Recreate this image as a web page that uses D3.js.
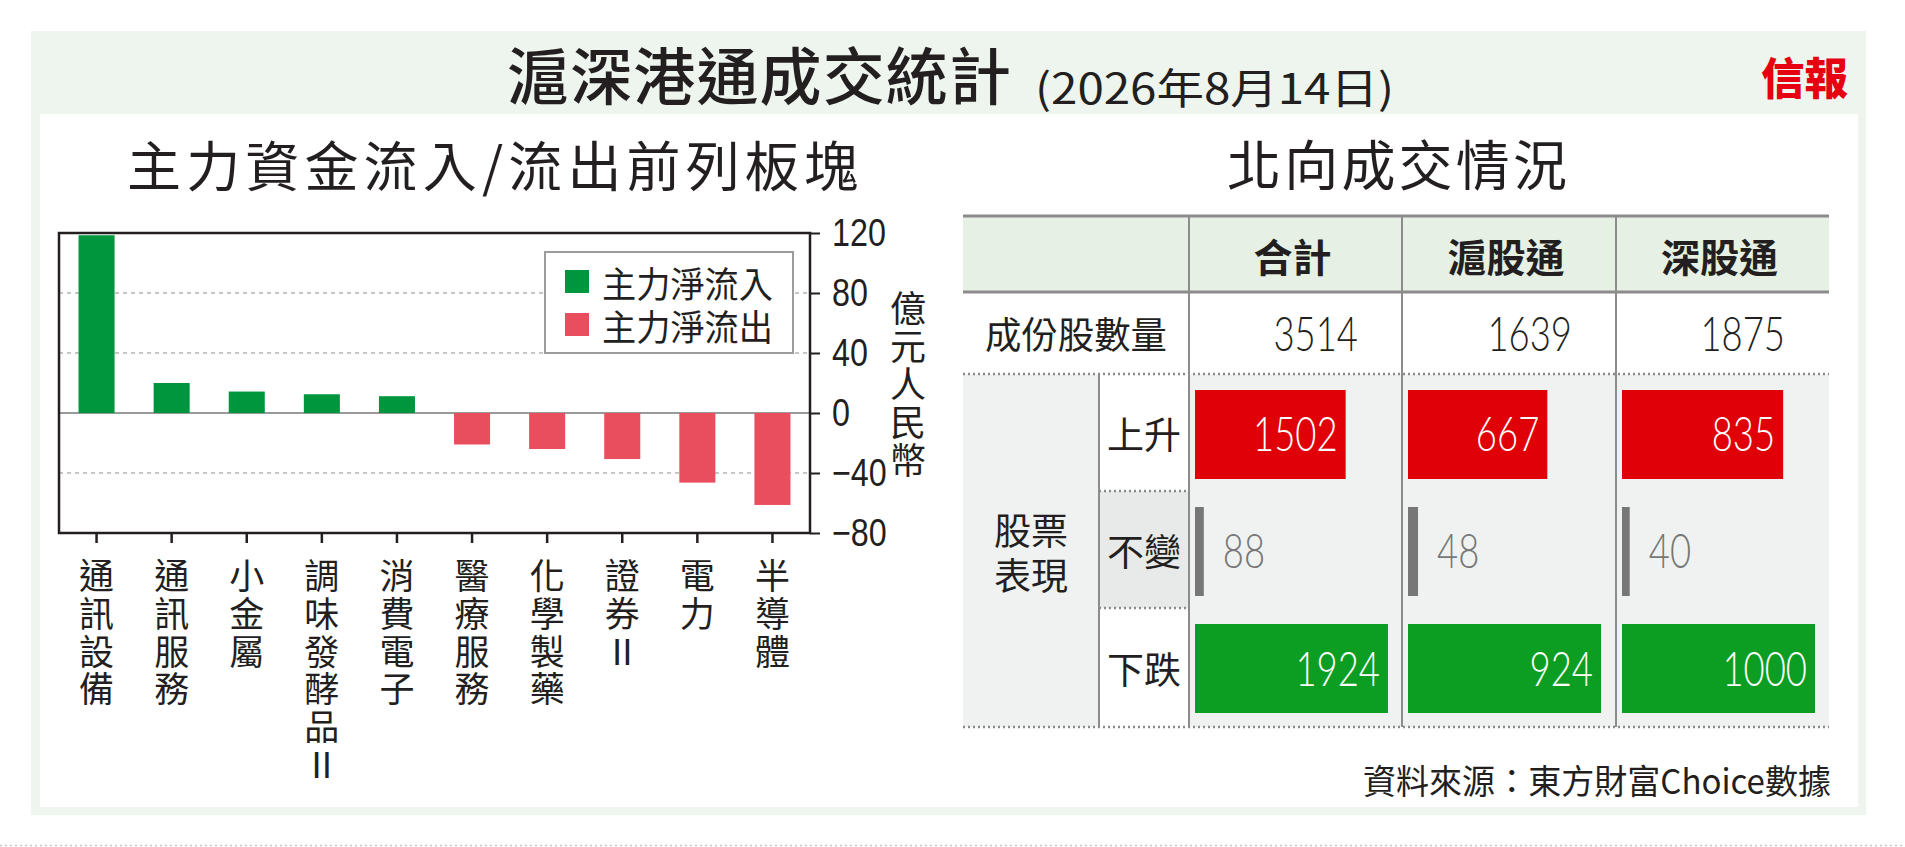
<!DOCTYPE html>
<html>
<head>
<meta charset="utf-8">
<script src="https://cdn.jsdelivr.net/npm/d3@7"></script>
<style>
  body { margin: 0; background: #fff; }
</style>
</head>
<body>
<script>
// chart data
const sectors = ["通訊設備", "通訊服務", "小金屬", "調味發酵品Ⅱ", "消費電子", "醫療服務", "化學製藥", "證券Ⅱ", "電力", "半導體"];
const netFlow = [118.5, 20, 14.3, 12.5, 11.2, -21, -24, -30.7, -46.4, -61.3];
const yTicks = [120, 80, 40, 0, -40, -80];
const gridTicks = [80, 40, -40];
const legendLabels = ["主力淨流入", "主力淨流出"];

// table data
const tableCols = ["合計", "滬股通", "深股通"];
const constituents = [3514, 1639, 1875];
const rowLabels = ["上升", "不變", "下跌"];
const risers = [1502, 667, 835];
const unchanged = [88, 48, 40];
const fallers = [1924, 924, 1000];

const cjk = '"Noto Sans CJK TC", "Noto Sans CJK SC", sans-serif';
const ink = "#231f20";
const green = "#00963e", pink = "#e94e5f";

const svg = d3.select("body").append("svg")
    .attr("width", 1905)
    .attr("height", 847);

// squeeze text horizontally (the original uses a condensed face)
function condensed(sel, sx) {
    sel.attr("transform", function () {
        const x = +this.getAttribute("x") || 0, y = +this.getAttribute("y") || 0;
        return `translate(${x},${y}) scale(${sx},1)`;
    }).attr("x", 0).attr("y", 0);
}

// background panels
svg.append("rect").attr("x", 31).attr("y", 31).attr("width", 1835).attr("height", 784).attr("fill", "#edf5ee");
svg.append("rect").attr("x", 40).attr("y", 114).attr("width", 1818).attr("height", 693).attr("fill", "#fff");
svg.append("line").attr("x1", 0).attr("x2", 1905).attr("y1", 845.5).attr("y2", 845.5)
    .attr("stroke", "#c8c8c8").attr("stroke-width", 1.5).attr("stroke-dasharray", "2,3");

// titles
svg.append("text").attr("x", 507).attr("y", 73).text("滬深港通成交統計")
    .attr("font-family", cjk).attr("font-size", 62).attr("font-weight", 500).attr("fill", ink)
    .attr("dominant-baseline", "central").attr("textLength", 504).attr("lengthAdjust", "spacing");
svg.append("text").attr("x", 1035).attr("y", 85).text("(2026年8月14日)")
    .attr("font-family", cjk).attr("font-size", 42).attr("fill", ink)
    .attr("dominant-baseline", "central").attr("textLength", 359).attr("lengthAdjust", "spacingAndGlyphs");
svg.append("text").attr("x", 1761).attr("y", 76).text("信報")
    .attr("font-family", cjk).attr("font-size", 44).attr("font-weight", 900).attr("fill", "#e60012")
    .attr("dominant-baseline", "central").attr("textLength", 87).attr("lengthAdjust", "spacingAndGlyphs");

svg.append("text").attr("x", 127).attr("y", 163).text("主力資金流入/流出前列板塊")
    .attr("font-family", cjk).attr("font-size", 54).attr("fill", ink)
    .attr("dominant-baseline", "central").attr("textLength", 731).attr("lengthAdjust", "spacing");
svg.append("text").attr("x", 1227).attr("y", 162).text("北向成交情況")
    .attr("font-family", cjk).attr("font-size", 54).attr("fill", ink)
    .attr("dominant-baseline", "central").attr("textLength", 340).attr("lengthAdjust", "spacing");

// ---------- bar chart ----------
const x = d3.scaleBand().domain(sectors).range([59, 810]).paddingInner(0.52).paddingOuter(0.26);
const y = d3.scaleLinear().domain([-80, 120]).range([533, 233]);

const chart = svg.append("g");

chart.selectAll(".grid")
    .data(gridTicks)
    .enter()
    .append("line")
    .attr("class", "grid")
    .attr("x1", 59).attr("x2", 810)
    .attr("y1", d => y(d)).attr("y2", d => y(d))
    .attr("stroke", "#b4b4b4").attr("stroke-width", 1.5).attr("stroke-dasharray", "4,4");

chart.append("line")
    .attr("x1", 59).attr("x2", 810).attr("y1", y(0)).attr("y2", y(0))
    .attr("stroke", "#9a9a9a").attr("stroke-width", 2);

chart.selectAll(".bar")
    .data(sectors)
    .enter()
    .append("rect")
    .attr("class", "bar")
    .attr("x", d => x(d))
    .attr("width", x.bandwidth())
    .attr("y", (d, i) => y(Math.max(0, netFlow[i])))
    .attr("height", (d, i) => Math.abs(y(netFlow[i]) - y(0)))
    .attr("fill", (d, i) => netFlow[i] >= 0 ? green : pink);

// legend
const legend = chart.append("g");
legend.append("rect").attr("x", 545).attr("y", 252).attr("width", 248).attr("height", 101)
    .attr("fill", "#fff").attr("stroke", "#9c9c9c").attr("stroke-width", 2);
legend.selectAll(".key")
    .data(legendLabels)
    .enter()
    .append("rect")
    .attr("class", "key")
    .attr("x", 565).attr("y", (d, i) => 270 + i * 43)
    .attr("width", 24).attr("height", 23)
    .attr("fill", (d, i) => i === 0 ? green : pink);
legend.selectAll(".keytext")
    .data(legendLabels)
    .enter()
    .append("text")
    .attr("class", "keytext")
    .attr("x", 602).attr("y", (d, i) => 282 + i * 43)
    .attr("font-family", cjk).attr("font-size", 36).attr("fill", ink)
    .attr("dominant-baseline", "central")
    .attr("textLength", 171).attr("lengthAdjust", "spacingAndGlyphs")
    .text(d => d);

// frame
chart.append("rect").attr("x", 59).attr("y", 233).attr("width", 751).attr("height", 300)
    .attr("fill", "none").attr("stroke", ink).attr("stroke-width", 2.5);

// right axis
const yAxis = chart.append("g")
    .attr("transform", "translate(810,0)")
    .call(d3.axisRight(y).tickValues(yTicks).tickSize(10).tickPadding(12));
yAxis.select(".domain").remove();
yAxis.selectAll("line").attr("stroke", ink).attr("stroke-width", 2);
yAxis.selectAll("text")
    .attr("font-family", '"Liberation Sans", Arial, sans-serif')
    .attr("font-size", 38).attr("fill", ink)
    .call(condensed, 0.85);

// bottom ticks
const xAxis = chart.append("g")
    .attr("transform", "translate(0,533)")
    .call(d3.axisBottom(x).tickSize(10).tickFormat(""));
xAxis.select(".domain").remove();
xAxis.selectAll("line").attr("stroke", ink).attr("stroke-width", 2.5);

// vertical category labels, one character per line
chart.selectAll(".xlab")
    .data(sectors)
    .enter()
    .append("text")
    .attr("class", "xlab")
    .attr("font-family", cjk).attr("font-size", 35).attr("fill", ink)
    .attr("text-anchor", "middle")
    .attr("dominant-baseline", "central")
    .each(function (d) {
        const t = d3.select(this);
        Array.from(d).forEach((ch, k) => {
            t.append("tspan")
                .attr("x", x(d) + x.bandwidth() / 2)
                .attr("y", 573 + k * 37.8)
                .text(ch);
        });
    });

// unit label
chart.selectAll(".unit")
    .data(Array.from("億元人民幣"))
    .enter()
    .append("text")
    .attr("class", "unit")
    .attr("x", 908).attr("y", (d, i) => 306 + i * 38)
    .attr("font-family", cjk).attr("font-size", 36).attr("fill", ink)
    .attr("text-anchor", "middle").attr("dominant-baseline", "central")
    .text(d => d);

// ---------- table ----------
const tLeft = 963, subDiv = 1099;
const colEdges = [1189, 1402, 1616, 1829];
const rowY = [216, 292, 374, 491, 608, 727];
const lineGray = "#8c8c8c";
const numFont = 'Lato, "Open Sans", sans-serif';

const table = svg.append("g");

table.append("rect").attr("x", tLeft).attr("y", rowY[0]).attr("width", colEdges[3] - tLeft)
    .attr("height", rowY[1] - rowY[0]).attr("fill", "#e6f0e5");
table.append("rect").attr("x", tLeft).attr("y", rowY[2]).attr("width", colEdges[3] - tLeft)
    .attr("height", rowY[5] - rowY[2]).attr("fill", "#f0f2f1");
table.selectAll(".subcell")
    .data(rowLabels)
    .enter()
    .append("rect")
    .attr("class", "subcell")
    .attr("x", subDiv).attr("width", colEdges[0] - subDiv)
    .attr("y", (d, i) => rowY[i + 2]).attr("height", (d, i) => rowY[i + 3] - rowY[i + 2])
    .attr("fill", (d, i) => i === 1 ? "#e8eae9" : "#fff");

// headers
table.selectAll(".head")
    .data(tableCols)
    .enter()
    .append("text")
    .attr("class", "head")
    .attr("x", (d, i) => (colEdges[i] + colEdges[i + 1]) / 2 - 3)
    .attr("y", (rowY[0] + rowY[1]) / 2 + 1)
    .attr("font-family", cjk).attr("font-size", 39).attr("font-weight", 700).attr("fill", ink)
    .attr("text-anchor", "middle").attr("dominant-baseline", "central")
    .text(d => d);

table.append("text")
    .attr("x", (tLeft + colEdges[0]) / 2).attr("y", (rowY[1] + rowY[2]) / 2)
    .attr("font-family", cjk).attr("font-size", 37).attr("fill", ink)
    .attr("text-anchor", "middle").attr("dominant-baseline", "central")
    .attr("textLength", 182).attr("lengthAdjust", "spacingAndGlyphs")
    .text("成份股數量");

table.selectAll(".count")
    .data(constituents)
    .enter()
    .append("text")
    .attr("class", "count")
    .attr("x", (d, i) => colEdges[i + 1] - 44)
    .attr("y", (rowY[1] + rowY[2]) / 2 + 18)
    .attr("font-family", numFont).attr("font-size", 48).attr("font-weight", 300).attr("fill", ink)
    .attr("text-anchor", "end")
    .text(d => d)
    .call(condensed, 0.76);

// side labels
const midSection = (rowY[2] + rowY[5]) / 2;
table.selectAll(".perf")
    .data(["股票", "表現"])
    .enter()
    .append("text")
    .attr("class", "perf")
    .attr("x", (tLeft + subDiv) / 2).attr("y", (d, i) => midSection - 22 + i * 45)
    .attr("font-family", cjk).attr("font-size", 37).attr("fill", ink)
    .attr("text-anchor", "middle").attr("dominant-baseline", "central")
    .text(d => d);
table.selectAll(".rowlab")
    .data(rowLabels)
    .enter()
    .append("text")
    .attr("class", "rowlab")
    .attr("x", (subDiv + colEdges[0]) / 2)
    .attr("y", (d, i) => (rowY[i + 2] + rowY[i + 3]) / 2)
    .attr("font-family", cjk).attr("font-size", 37).attr("fill", ink)
    .attr("text-anchor", "middle").attr("dominant-baseline", "central")
    .text(d => d);

// bars per column, each column scaled to its own largest group
const rowSeries = [risers, unchanged, fallers];
const rowFill = ["#e00008", "#777777", "#0c9e22"];
tableCols.forEach((col, c) => {
    const colMax = d3.max(rowSeries, s => s[c]);
    const w = d3.scaleLinear().domain([0, colMax]).range([0, 193]);
    const x0 = colEdges[c] + 6;
    rowSeries.forEach((series, r) => {
        const top = rowY[r + 2], bottom = rowY[r + 3];
        const v = series[c];
        table.append("rect")
            .attr("x", x0).attr("y", top + 16)
            .attr("width", w(v)).attr("height", 89)
            .attr("fill", rowFill[r]);
        const label = table.append("text")
            .attr("y", (top + bottom) / 2 + 18)
            .attr("font-family", numFont).attr("font-size", 48).attr("font-weight", 300)
            .text(v);
        if (r === 1) {
            label.attr("x", x0 + w(v) + 19).attr("fill", "#777777");
        } else {
            label.attr("x", x0 + w(v) - 8).attr("fill", "#fff").attr("text-anchor", "end");
        }
        label.call(condensed, 0.76);
    });
});

// table rules
table.append("line").attr("x1", tLeft).attr("x2", colEdges[3]).attr("y1", rowY[0]).attr("y2", rowY[0])
    .attr("stroke", lineGray).attr("stroke-width", 3);
table.append("line").attr("x1", tLeft).attr("x2", colEdges[3]).attr("y1", rowY[1]).attr("y2", rowY[1])
    .attr("stroke", lineGray).attr("stroke-width", 3);
table.selectAll(".vdiv")
    .data(colEdges.slice(0, 3))
    .enter()
    .append("line")
    .attr("class", "vdiv")
    .attr("x1", d => d).attr("x2", d => d).attr("y1", rowY[0]).attr("y2", rowY[5])
    .attr("stroke", lineGray).attr("stroke-width", 2);
table.append("line").attr("x1", subDiv).attr("x2", subDiv).attr("y1", rowY[2]).attr("y2", rowY[5])
    .attr("stroke", lineGray).attr("stroke-width", 2);
[rowY[2], rowY[5]].forEach(yy => {
    table.append("line").attr("x1", tLeft).attr("x2", colEdges[3]).attr("y1", yy).attr("y2", yy)
        .attr("stroke", "#8a8a8a").attr("stroke-width", 2.5).attr("stroke-dasharray", "2,3");
});
[rowY[3], rowY[4]].forEach(yy => {
    table.append("line").attr("x1", subDiv).attr("x2", colEdges[0]).attr("y1", yy).attr("y2", yy)
        .attr("stroke", "#8a8a8a").attr("stroke-width", 2.5).attr("stroke-dasharray", "2,3");
});

// source
svg.append("text").attr("x", 1831).attr("y", 779)
    .attr("font-family", cjk).attr("font-size", 34).attr("fill", ink)
    .attr("text-anchor", "end").attr("dominant-baseline", "central")
    .attr("textLength", 468).attr("lengthAdjust", "spacingAndGlyphs")
    .text("資料來源：東方財富Choice數據");
</script>
</body>
</html>
